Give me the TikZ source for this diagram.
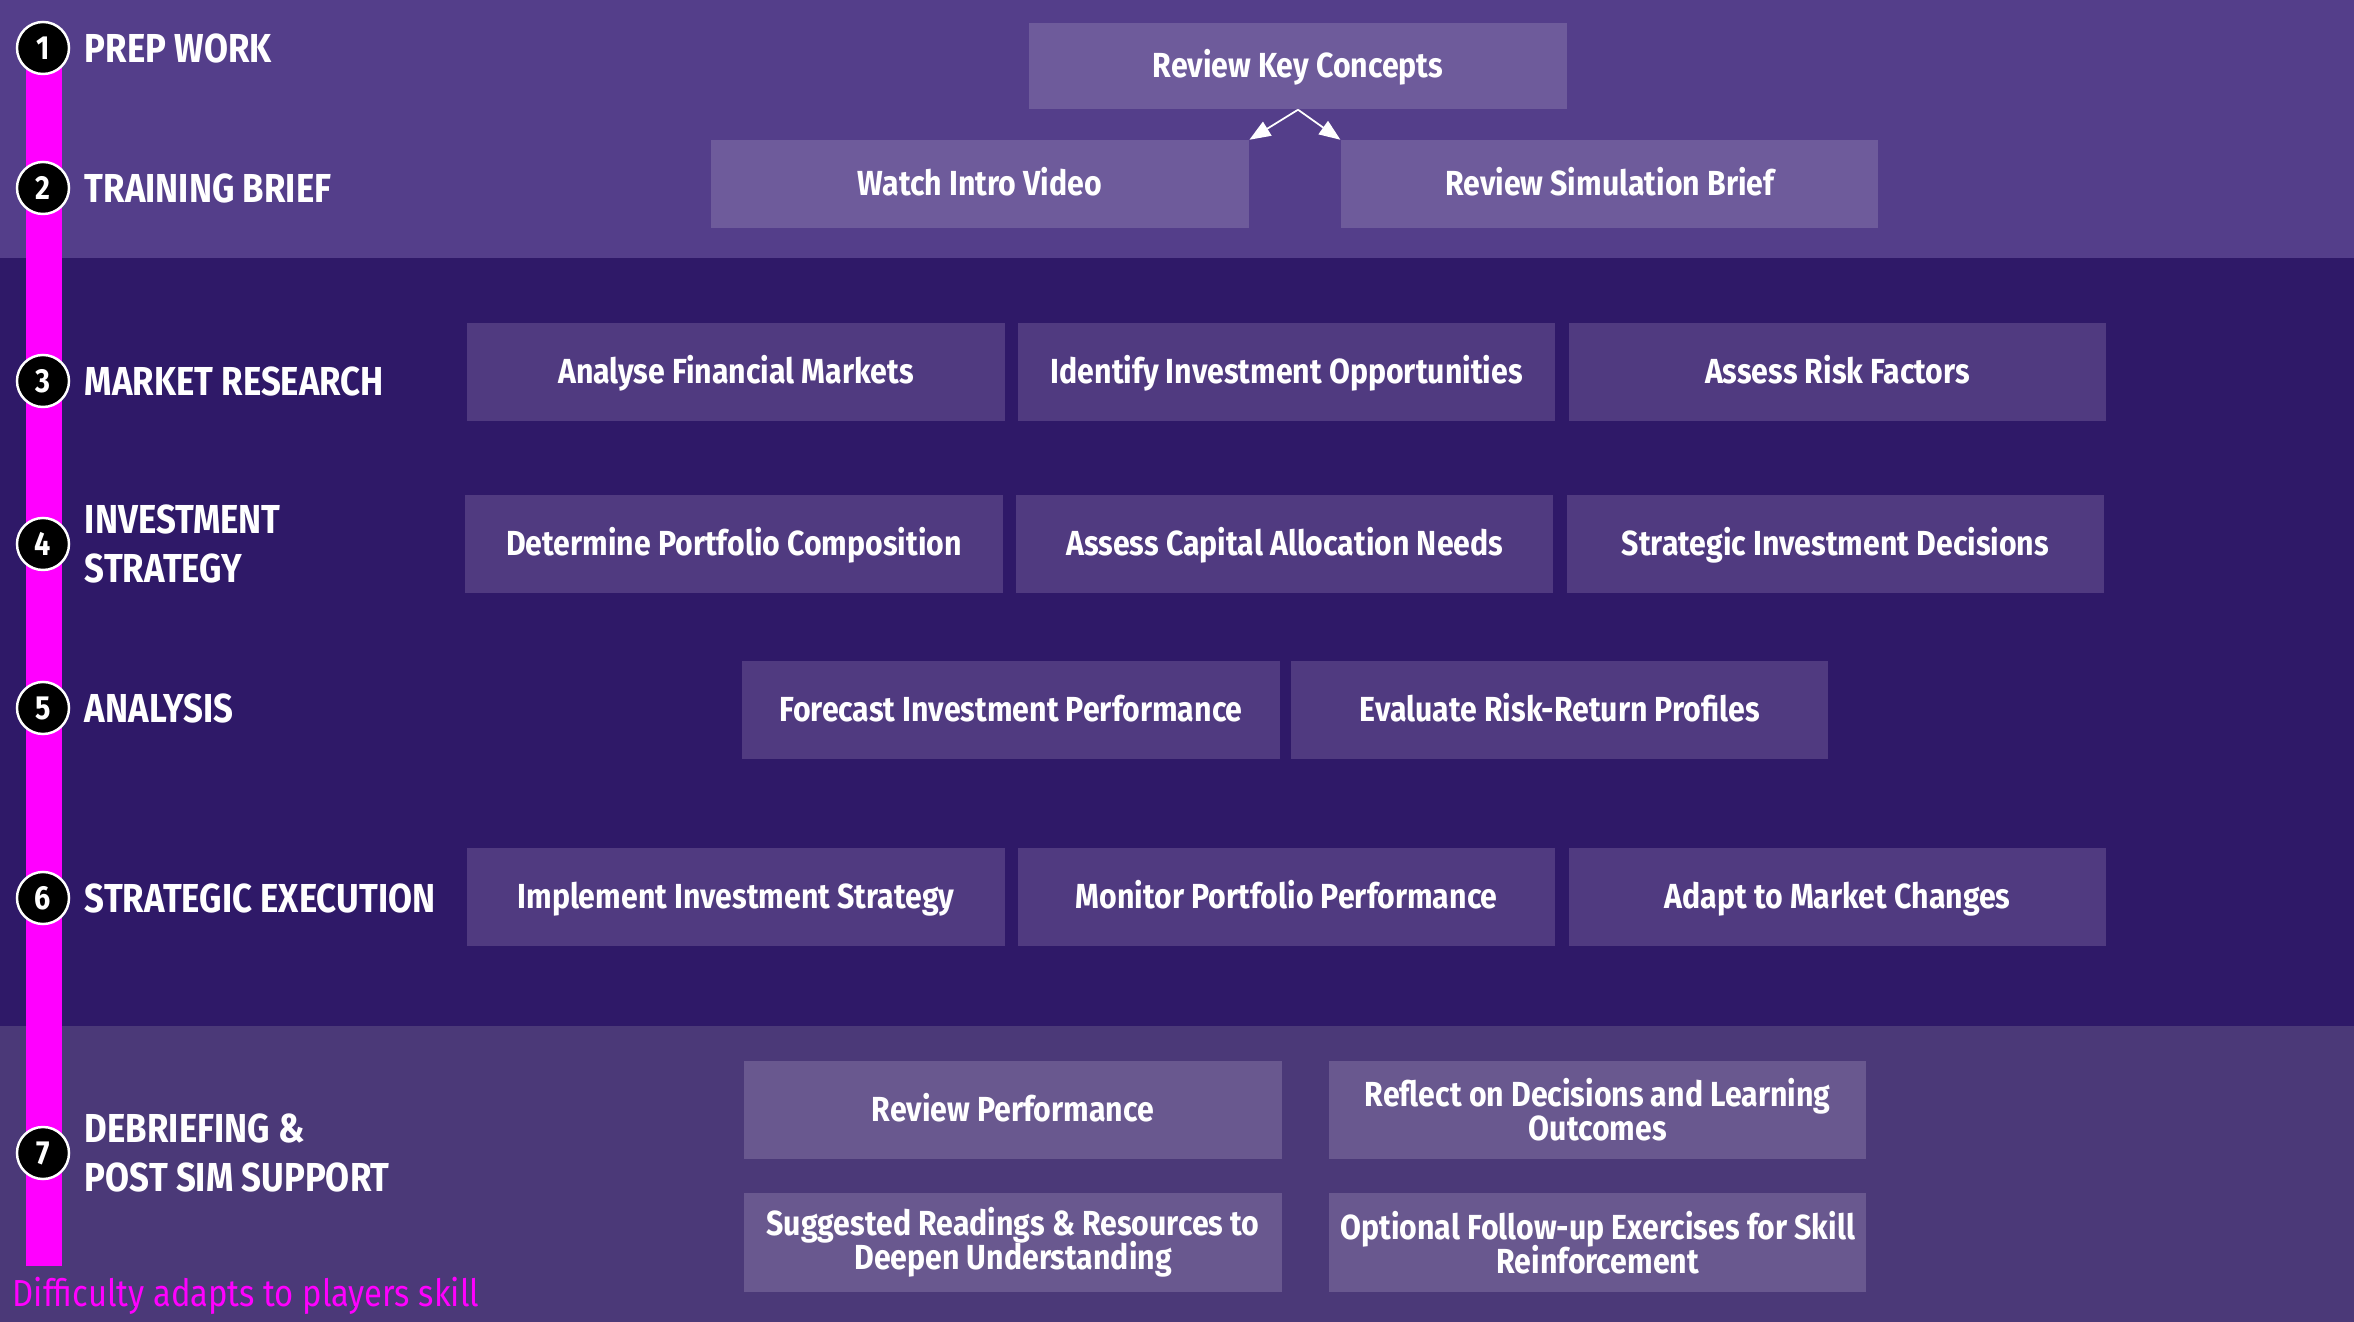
\documentclass[tikz,border=0pt]{standalone}
\usepackage{fontspec}
\setmainfont{Fira Sans}
\newfontfamily\boxfont[FakeStretch=0.87]{Fira Sans}
\newfontfamily\headfont[FakeStretch=0.86]{Fira Sans}
\newfontfamily\notefont[FakeStretch=0.87]{Fira Sans}
\usetikzlibrary{positioning, arrows.meta}
\setlength{\lineskiplimit}{-6pt}
\definecolor{bandtop}{HTML}{543E8A}
\definecolor{bandmid}{HTML}{2F1968}
\definecolor{bandlow}{HTML}{4B3978}
\definecolor{boxtop}{HTML}{6E5B9B}
\definecolor{boxmid}{HTML}{503A80}
\definecolor{boxlow}{HTML}{69588F}
\definecolor{barpink}{HTML}{FF00FF}
\tikzstyle{task} = [rectangle, minimum width=5.37cm, minimum height=0.98cm, inner sep=0pt, align=center, text=white, font=\boxfont\bfseries\fontsize{9.9pt}{9.6pt}\selectfont]
\tikzstyle{oneline} = [task, text height=6.8pt, text depth=0pt]
\tikzstyle{num} = [circle, minimum size=0.52cm, inner sep=0pt, fill=black, draw=white, line width=0.7pt, text=white, font=\headfont\bfseries\fontsize{9.5pt}{10pt}\selectfont]
\tikzstyle{phase} = [inner sep=0pt, align=left, text=white, font=\headfont\bfseries\fontsize{11.5pt}{13.9pt}\selectfont]
\tikzstyle{arrow} = [white, line width=0.5pt, ->]

\begin{document}
\begin{tikzpicture}[x=0.01cm, y=-0.01cm, >={Triangle[length=6pt,width=4.6pt]}]
	\useasboundingbox (0,0) rectangle (2354,1322);
	\fill[bandtop] (0,0) rectangle (2354,258);
	\fill[bandmid] (0,258) rectangle (2354,1026);
	\fill[bandlow] (0,1026) rectangle (2354,1322);
	\fill[barpink] (26,48) rectangle (62,1266);

	\node[num] (n1) at (43,48) {1};
	\node[num] (n2) at (43,188) {2};
	\node[num] (n3) at (43,381) {3};
	\node[num] (n4) at (43,544) {4};
	\node[num] (n5) at (43,708) {5};
	\node[num] (n6) at (43,898) {6};
	\node[num] (n7) at (43,1153) {7};
	\node[phase, right=0.14cm of n1] (p1) {PREP WORK};
	\node[phase, right=0.14cm of n2] (p2) {TRAINING BRIEF};
	\node[phase, right=0.14cm of n3] (p3) {MARKET RESEARCH};
	\node[phase, right=0.14cm of n4] (p4) {INVESTMENT\\STRATEGY};
	\node[phase, right=0.14cm of n5] (p5) {ANALYSIS};
	\node[phase, right=0.14cm of n6] (p6) {STRATEGIC EXECUTION};
	\node[phase, right=0.14cm of n7] (p7) {DEBRIEFING \&\\POST SIM SUPPORT};

	% prep work and brief
	\node[oneline, fill=boxtop, minimum height=0.86cm] (concepts) at (1298,66) {Review Key Concepts};
	\node[oneline, fill=boxtop, minimum height=0.87cm] (video) at (980,184) {Watch Intro Video};
	\node[oneline, fill=boxtop, minimum height=0.87cm, right=0.91cm of video] (brief) {Review Simulation Brief};
	\draw[arrow] (concepts.south) -- (video.north east);
	\draw[arrow] (concepts.south) -- (brief.north west);

	% market research
	\node[oneline, fill=boxmid] (markets) at (736,372) {Analyse Financial Markets};
	\node[oneline, fill=boxmid, right=0.12cm of markets] (opps) {Identify Investment Opportunities};
	\node[oneline, fill=boxmid, right=0.12cm of opps] (risk) {Assess Risk Factors};

	% investment strategy
	\node[oneline, fill=boxmid] (portfolio) at (734,544) {Determine Portfolio Composition};
	\node[oneline, fill=boxmid, right=0.12cm of portfolio] (capital) {Assess Capital Allocation Needs};
	\node[oneline, fill=boxmid, right=0.12cm of capital] (decisions) {Strategic Investment Decisions};

	% analysis
	\node[oneline, fill=boxmid] (forecast) at (1011,710) {Forecast Investment Performance};
	\node[oneline, fill=boxmid, right=0.1cm of forecast] (profiles) {Evaluate Risk-Return Profiles};

	% execution
	\node[oneline, fill=boxmid] (implement) at (736,897) {Implement Investment Strategy};
	\node[oneline, fill=boxmid, right=0.12cm of implement] (monitor) {Monitor Portfolio Performance};
	\node[oneline, fill=boxmid, right=0.12cm of monitor] (adapt) {Adapt to Market Changes};

	% debriefing
	\node[oneline, fill=boxlow] (perf) at (1013,1110) {Review Performance};
	\node[task, fill=boxlow, right=0.46cm of perf] (reflect) {Reflect on Decisions and Learning\\Outcomes};
	\node[task, fill=boxlow, below=0.33cm of perf] (readings) {Suggested Readings \& Resources to\\Deepen Understanding};
	\node[task, fill=boxlow, below=0.33cm of reflect] (followup) {Optional Follow-up Exercises for Skill\\Reinforcement};

	\node[anchor=base west, inner sep=0pt, text=barpink, font=\notefont\fontsize{10.7pt}{12pt}\selectfont] (note) at (12,1306) {Difficulty adapts to players skill};
\end{tikzpicture}
\end{document}
